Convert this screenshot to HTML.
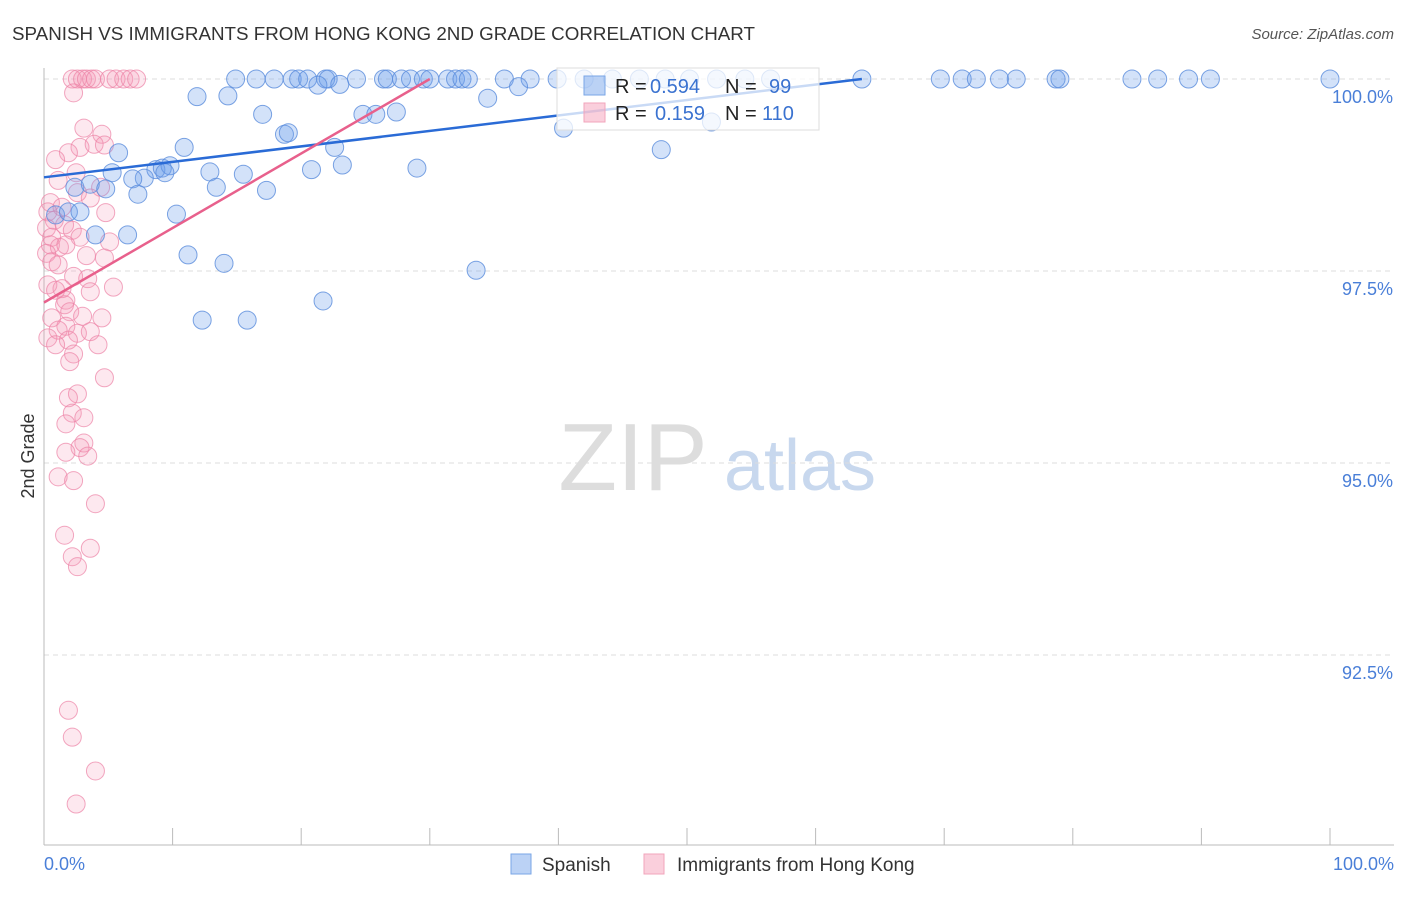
<!DOCTYPE html>
<html><head><meta charset="utf-8"><style>
body{margin:0;background:#fff;font-family:"Liberation Sans",sans-serif;}
svg text{font-family:"Liberation Sans",sans-serif;}
</style></head><body>
<svg id="c" width="1406" height="892" viewBox="0 0 1406 892" xmlns="http://www.w3.org/2000/svg">
<text x="12" y="40" font-size="18.5" fill="#333" textLength="743" lengthAdjust="spacingAndGlyphs">SPANISH VS IMMIGRANTS FROM HONG KONG 2ND GRADE CORRELATION CHART</text>
<text x="1394" y="39" font-size="15" fill="#555" text-anchor="end" font-style="italic">Source: ZipAtlas.com</text>
<g><text x="633" y="490" font-size="96" fill="#ddd" text-anchor="middle" font-family="Liberation Serif">ZIP</text><text x="800" y="490" font-size="72" fill="#c8d8ee" text-anchor="middle">atlas</text></g>
<g id="grid"></g><g id="axes"></g><g id="pts"></g><g id="trend"></g>
<text transform="translate(34,456) rotate(-90)" font-size="18" fill="#333" text-anchor="middle">2nd Grade</text>
<g>
<rect x="557" y="68" width="262" height="62" fill="rgba(255,255,255,0.75)" stroke="#ddd"/>
<rect x="584" y="76" width="21" height="19" fill="rgba(120,165,235,0.5)" stroke="#7aa6e6"/>
<rect x="584" y="103" width="21" height="19" fill="rgba(245,160,185,0.5)" stroke="#f2a4bb"/>
<text x="615" y="93" font-size="20" fill="#222">R =</text>
<text x="650" y="93" font-size="20" fill="#3a72d0">0.594</text>
<text x="725" y="93" font-size="20" fill="#222">N =</text>
<text x="769" y="93" font-size="20" fill="#3a72d0">99</text>
<text x="615" y="120" font-size="20" fill="#222">R =</text>
<text x="655" y="120" font-size="20" fill="#3a72d0">0.159</text>
<text x="725" y="120" font-size="20" fill="#222">N =</text>
<text x="762" y="120" font-size="20" fill="#3a72d0">110</text>
</g>
<g>
<rect x="511" y="854" width="20" height="20" fill="rgba(120,165,235,0.5)" stroke="#7aa6e6"/>
<text x="542" y="871" font-size="19" fill="#333">Spanish</text>
<rect x="644" y="854" width="20" height="20" fill="rgba(245,160,185,0.5)" stroke="#f2a4bb"/>
<text x="677" y="871" font-size="19" fill="#333">Immigrants from Hong Kong</text>
</g>
</svg>
<script>
const yTicks=[100,97.5,95,92.5];
const yTickLabels=["100.0%","97.5%","95.0%","92.5%"];
const xTicks=[0,10,20,30,40,50,60,70,80,90,100];
const blueX=[14.9,16.5,17.9,19.3,19.8,20.5,21.9,22.1,24.3,26.4,26.7,27.8,28.5,29.5,30.0,31.4,32.0,32.5,33.0,35.8,37.8,39.9,42.0,44.2,46.3,48.3,50.2,52.3,54.5,56.5,63.6,69.7,71.4,72.5,74.3,75.6,78.7,79.0,84.6,86.6,89.0,90.7,100,
21.3,23.0,36.9,11.9,14.3,34.5,17.0,24.8,25.8,27.4,40.4,51.9,18.7,19.0,10.9,22.6,48.0,5.8,23.2,20.8,29.0,5.3,8.7,9.2,9.8,9.4,7.8,6.9,12.9,15.5,2.4,3.6,4.8,13.4,7.3,17.3,0.9,1.9,2.8,10.3,4.0,6.5,11.2,14.0,33.6,21.7,12.3,15.8];
const blueY=[100,100,100,100,100,100,100,100,100,100,100,100,100,100,100,100,100,100,100,100,100,100,100,100,100,100,100,100,100,100,100,100,100,100,100,100,100,100,100,100,100,100,100,
99.92,99.93,99.9,99.77,99.78,99.75,99.54,99.54,99.54,99.57,99.36,99.44,99.28,99.3,99.11,99.11,99.08,99.04,98.88,98.82,98.84,98.78,98.82,98.84,98.87,98.78,98.71,98.7,98.79,98.76,98.59,98.63,98.57,98.59,98.5,98.55,98.23,98.27,98.27,98.24,97.97,97.97,97.71,97.6,97.51,97.11,96.86,96.86];
const pinkX=[2.2,2.6,3.0,3.3,3.7,4.0,5.1,5.6,6.2,6.7,7.2,2.3,3.1,4.5,2.8,3.9,4.7,1.9,0.9,2.5,1.1,4.4,2.6,3.6,0.5,1.4,4.8,0.3,0.8,1.6,0.2,2.2,0.6,2.8,5.1,0.5,1.2,1.7,0.2,3.3,4.7,0.6,1.1,2.3,3.4,0.3,1.4,0.9,5.4,3.6,1.7,1.6,2.0,3.0,4.5,0.6,1.7,1.1,2.6,3.6,0.3,1.9,0.9,4.2,2.3,2.0,4.7,2.6,1.9,2.2,3.1,1.7,3.1,2.8,1.7,3.4,1.1,2.3,4.0,1.6,3.6,2.2,2.6,1.9,2.2,4.0,2.5];
const pinkY=[100,100,100,100,100,100,100,100,100,100,100,99.82,99.36,99.28,99.11,99.15,99.14,99.04,98.95,98.78,98.68,98.59,98.52,98.45,98.39,98.33,98.26,98.27,98.16,98.1,98.06,98.03,97.94,97.94,97.88,97.84,97.81,97.84,97.73,97.7,97.67,97.62,97.58,97.43,97.4,97.32,97.27,97.25,97.29,97.23,97.12,97.06,96.97,96.91,96.89,96.89,96.78,96.73,96.69,96.71,96.63,96.6,96.54,96.54,96.42,96.32,96.11,95.9,95.85,95.65,95.59,95.51,95.26,95.2,95.14,95.09,94.82,94.77,94.47,94.06,93.89,93.78,93.65,91.78,91.43,90.99,90.56];
const blueTrendX=[0,63.6], blueTrendY=[98.72,100];
const pinkTrendX=[0,30], pinkTrendY=[97.09,100];
const NS="http://www.w3.org/2000/svg";
const sx=v=>44+v*12.86, sy=v=>79+(100-v)*76.8;
function mk(tag,attrs,parent){const e=document.createElementNS(NS,tag);for(const k in attrs)e.setAttribute(k,attrs[k]);parent.appendChild(e);return e;}
const grid=document.getElementById('grid'),axes=document.getElementById('axes'),pts=document.getElementById('pts'),tr=document.getElementById('trend');
yTicks.forEach((t,i)=>{
 const l=mk('line',{x1:44,x2:1394,y1:sy(t),y2:sy(t),stroke:'#ddd','stroke-dasharray':'5,4'},grid);
 
 
 const tx=mk('text',{x:1393,y:sy(t)+24,'font-size':18,fill:'#4a7fd8','text-anchor':'end'},axes);
 tx.textContent=yTickLabels[i];
 
 
});
const ax=mk('line',{x1:44,x2:44,y1:68,y2:845,stroke:'#bbb'},axes);


const bx=mk('line',{x1:44,x2:1394,y1:845,y2:845,stroke:'#bbb'},axes);


xTicks.forEach(t=>{const l=mk('line',{x1:sx(t),x2:sx(t),y1:828,y2:845,stroke:'#bbb'},axes);
 
 });
const x0=mk('text',{x:44,y:870,'font-size':18,fill:'#4a7fd8'},axes);x0.textContent='0.0%';


const x1=mk('text',{x:1394,y:870,'font-size':18,fill:'#4a7fd8','text-anchor':'end'},axes);x1.textContent='100.0%';


pinkX.forEach((v,i)=>{const c=mk('circle',{cx:sx(v),cy:sy(pinkY[i]),r:9,fill:'rgba(245,150,180,0.22)',stroke:'rgba(236,130,165,0.7)','stroke-width':1},pts);
 
 });
blueX.forEach((v,i)=>{const c=mk('circle',{cx:sx(v),cy:sy(blueY[i]),r:9,fill:'rgba(110,160,235,0.3)',stroke:'rgba(90,140,220,0.8)','stroke-width':1},pts);
 
 });
const bl=mk('line',{x1:sx(blueTrendX[0]),y1:sy(blueTrendY[0]),x2:sx(blueTrendX[1]),y2:sy(blueTrendY[1]),stroke:'#2a6bd6','stroke-width':2.5},tr);


const pl=mk('line',{x1:sx(pinkTrendX[0]),y1:sy(pinkTrendY[0]),x2:sx(pinkTrendX[1]),y2:sy(pinkTrendY[1]),stroke:'#e8608c','stroke-width':2.5},tr);


</script>
</body></html>
